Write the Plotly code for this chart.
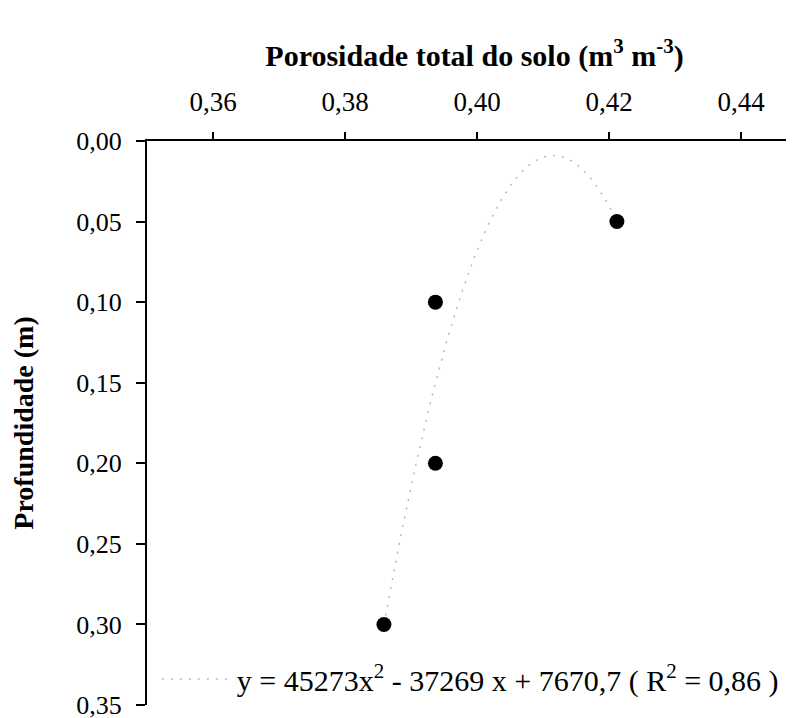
import numpy as np
import plotly.graph_objects as go

# Data
porosity = [0.4212, 0.3937, 0.3937, 0.3859]      # m3 m-3
depth = [0.05, 0.10, 0.20, 0.30]                   # m
x_ticks = [0.36, 0.38, 0.40, 0.42, 0.44]
y_ticks = [0.00, 0.05, 0.10, 0.15, 0.20, 0.25, 0.30, 0.35]
equation_label = "y = 45273x<sup>2</sup> - 37269 x + 7670,7 ( R<sup>2</sup> = 0,86 )"

# Polynomial (2nd order) trendline of depth (cm) on porosity, as in the spreadsheet
coef = np.polyfit(porosity, [d * 100 for d in depth], 2)
xs = np.linspace(min(porosity), max(porosity), 200)
ys = np.polyval(coef, xs) / 100.0

FONT = "Liberation Serif"

fig = go.Figure()
fig.add_trace(go.Scatter(
    x=xs, y=ys, mode="lines", name=equation_label,
    line=dict(color="rgb(185,185,185)", width=1.5, dash="2px,7px"),
    showlegend=True, hoverinfo="skip",
))
fig.add_trace(go.Scatter(
    x=porosity, y=depth, mode="markers", showlegend=False,
    marker=dict(color="black", size=15, line=dict(width=0)),
))

W, H = 794, 718
ml, mr, mt, mb = 139, 0, 133, 21
plot_w = W - ml - mr
px_per_unit = 6600.0
xmax = 0.35 + plot_w / px_per_unit

fig.update_layout(
    width=W, height=H,
    margin=dict(l=ml, r=mr, t=mt, b=mb, pad=0),
    paper_bgcolor="white", plot_bgcolor="white",
    separators=",.",
    font=dict(family=FONT, size=26, color="black"),
    legend=dict(
        x=0.015, y=0.0, xanchor="left", yanchor="bottom",
        bgcolor="rgba(0,0,0,0)", font=dict(family=FONT, size=30, color="black"),
        itemwidth=70,
    ),
    xaxis=dict(
        side="top", range=[0.35, xmax], tickvals=x_ticks,
        ticktext=[f"{v:.2f}".replace(".", ",") for v in x_ticks],
        showgrid=False, zeroline=False, showline=True, linecolor="black", linewidth=2,
        ticks="outside", ticklen=7, tickwidth=1.5, tickcolor="black",
        ticklabelstandoff=10,
        tickfont=dict(family=FONT, size=27),
        title=dict(text="<b>Porosidade total do solo (m<sup>3</sup> m<sup>-3</sup>)</b>",
                   font=dict(family=FONT, size=30), standoff=12),
    ),
    yaxis=dict(
        range=[0.35, 0.0], tickvals=y_ticks,
        ticktext=[f"{v:.2f}".replace(".", ",") for v in y_ticks],
        showgrid=False, zeroline=False, showline=True, linecolor="black", linewidth=2,
        ticks="outside", ticklen=9, tickwidth=1.5, tickcolor="black",
        ticklabelstandoff=9, ticklabeloverflow="allow",
        tickfont=dict(family=FONT, size=26),
        title=dict(text="<b>Profundidade (m)</b>", font=dict(family=FONT, size=28), standoff=38),
    ),
)

fig.write_html("out.html")
